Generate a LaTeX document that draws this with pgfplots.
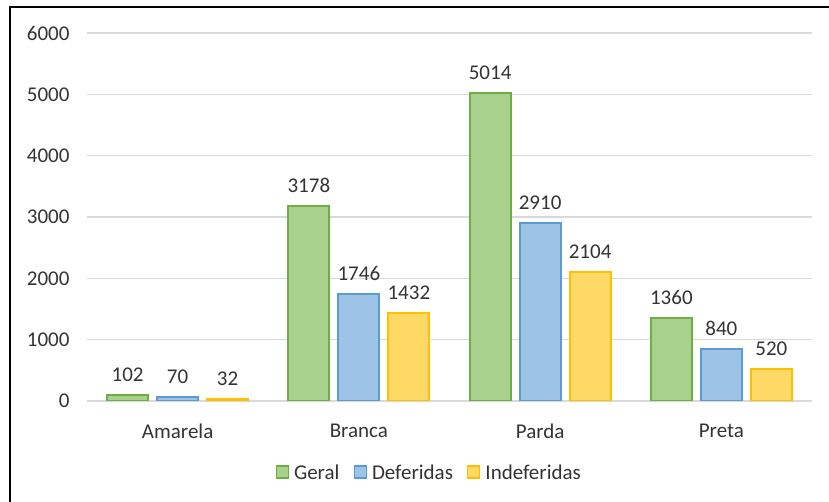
\documentclass[border=0pt]{standalone}
\usepackage{pgfplots}
\pgfplotsset{compat=1.18}
\usepackage{fontspec}
\setmainfont{Carlito}
\definecolor{gfill}{HTML}{A9D18E}
\definecolor{gline}{HTML}{70AD47}
\definecolor{bfill}{HTML}{9DC3E6}
\definecolor{bline}{HTML}{5B9BD5}
\definecolor{yfill}{HTML}{FFD966}
\definecolor{yline}{HTML}{FFC000}
\definecolor{txt}{HTML}{333333}
\definecolor{grd}{HTML}{D9D9D9}
\newcommand{\cf}{\fontsize{21}{24}\selectfont}
\begin{document}
\begin{tikzpicture}
\useasboundingbox (0pt,0pt) rectangle (829pt,502pt);
\draw[line width=2pt] (10pt,-2pt) -- (10pt,495pt) -- (831pt,495pt);
\begin{axis}[
  at={(87pt,101pt)}, anchor=south west, scale only axis,
  width=725pt, height=368pt,
  xmin=-0.5, xmax=3.5, ymin=0, ymax=6000,
  ytick={0,1000,...,6000},
  xtick={0,1,2,3}, xticklabels={Amarela,Branca,Parda,Preta},
  axis line style={draw=none},
  major tick length=0pt,
  ymajorgrids, grid style={grd, line width=1.5pt},
  yticklabel style={font=\cf, text=txt, xshift=-14pt},
  xticklabel style={font=\cf, text=txt, yshift=-19pt},
  /pgf/number format/assume math mode=true,
  /pgf/number format/1000 sep={},
  ybar=9pt, bar width=41pt,
  nodes near coords,
  nodes near coords style={font=\cf, text=txt, yshift=9pt, /pgf/number format/1000 sep={}},
  legend style={at={(0.472,-0.195)}, anchor=center, draw=none, legend columns=3, font=\cf, text=txt,
    /tikz/every odd column/.append style={column sep=3pt},
    /tikz/every even column/.append style={column sep=12pt}},
  legend image code/.code={\draw[#1, line width=1.5pt] (0pt,-5pt) rectangle (12pt,7pt);},
]
\addplot[fill=gfill, draw=gline, line width=2pt] coordinates {(0,102) (1,3178) (2,5014) (3,1360)};
\addplot[fill=bfill, draw=bline, line width=2pt] coordinates {(0,70) (1,1746) (2,2910) (3,840)};
\addplot[fill=yfill, draw=yline, line width=2pt] coordinates {(0,32) (1,1432) (2,2104) (3,520)};
\legend{Geral,Deferidas,Indeferidas}
\end{axis}
\end{tikzpicture}
\end{document}
